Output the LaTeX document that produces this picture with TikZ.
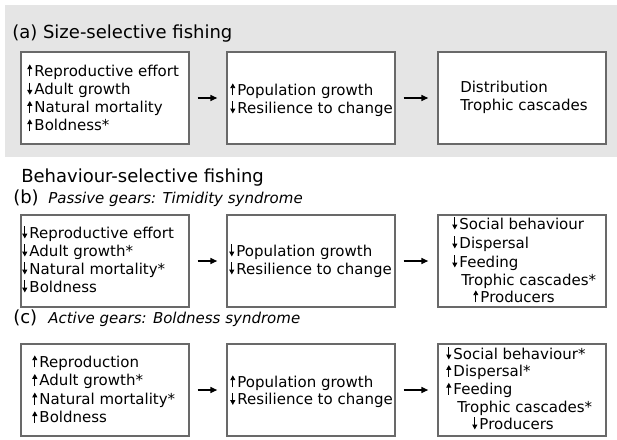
\documentclass[tikz,border=0pt]{standalone}
\usepackage{fontspec}
\setmainfont{DejaVu Sans}
\usetikzlibrary{arrows.meta}
\definecolor{bggray}{RGB}{229,229,229}
\definecolor{boxgray}{RGB}{105,105,105}
\newcommand\uar{\tikz[baseline=0pt]\draw[line width=0.7pt,-{Triangle[length=3.6pt,width=3.8pt]}] (0,-0.3pt)--(0,8.7pt);\hspace{1.6pt}}
\newcommand\dar{\tikz[baseline=0pt]\draw[line width=0.7pt,-{Triangle[length=3.6pt,width=3.8pt]}] (0,8.7pt)--(0,-0.3pt);\hspace{1.6pt}}
\tikzset{
  bx/.style={draw=boxgray, line width=0.8pt, fill=white, minimum width=126pt, minimum height=69pt, inner sep=0pt},
  ln/.style={anchor=base west, inner sep=0pt, font=\fontsize{11.25}{13}\selectfont},
  ttl/.style={anchor=base west, inner sep=0pt, font=\fontsize{13.5}{16}\selectfont},
  sub/.style={anchor=base west, inner sep=0pt, font=\fontsize{11.25}{13}\selectfont\itshape},
  con/.style={-{Triangle[length=5pt,width=4.5pt]}, line width=0.8pt, shorten <=6pt, shorten >=7pt}
}
\begin{document}
\begin{tikzpicture}[x=0.75pt,y=-0.75pt]
\useasboundingbox (0,0) rectangle (617,439);
\fill[white] (0,0) rectangle (617,439);
\fill[bggray] (5,5) rectangle (617,157);
% titles
\node[ttl] (ta) at (12,38) {(a) Size-selective fishing};
\node[ttl] (tbs) at (21,182) {Behaviour-selective fishing};
\node[ttl] (tb) at (13,203) {(b)};
\node[sub] (tbi) at (48,203) {Passive gears: Timidity syndrome};
\node[ttl] (tc) at (13,323) {(c)};
\node[sub] (tci) at (48,323) {Active gears: Boldness syndrome};
% boxes
\node[bx] (a1) at (105,98) {};
\node[bx] (a2) at (311,98) {};
\node[bx] (a3) at (522,98) {};
\node[bx] (b1) at (105,261) {};
\node[bx] (b2) at (311,261) {};
\node[bx] (b3) at (522,261) {};
\node[bx] (c1) at (105,390) {};
\node[bx] (c2) at (311,390) {};
\node[bx] (c3) at (522,390) {};
% connectors
\draw[con] (a1) -- (a2);
\draw[con] (a2) -- (a3);
\draw[con] (b1) -- (b2);
\draw[con] (b2) -- (b3);
\draw[con] (c1) -- (c2);
\draw[con] (c2) -- (c3);
% (a) texts
\foreach \t [count=\i] in {\uar Reproductive effort,\dar Adult growth,\uar Natural mortality,\uar Boldness*}
  \node[ln] (a1t\i) at (27,{76+18.3*(\i-1)}) {\t};
\foreach \t [count=\i] in {\uar Population growth,\dar Resilience to change}
  \node[ln] (a2t\i) at (230,{95+18*(\i-1)}) {\t};
\foreach \t [count=\i] in {Distribution,Trophic cascades}
  \node[ln] (a3t\i) at (460,{92+18*(\i-1)}) {\t};
% (b) texts
\foreach \t [count=\i] in {\dar Reproductive effort,\dar Adult growth*,\dar Natural mortality*,\dar Boldness}
  \node[ln] (b1t\i) at (22,{238+18*(\i-1)}) {\t};
\foreach \t [count=\i] in {\dar Population growth,\dar Resilience to change}
  \node[ln] (b2t\i) at (229,{256+18*(\i-1)}) {\t};
\foreach \t [count=\i] in {\dar Social behaviour,\dar Dispersal,\dar Feeding}
  \node[ln] (b3t\i) at (452,{229+19*(\i-1)}) {\t};
\node[ln] (b3t4) at (461,285) {Trophic cascades*};
\node[ln] (b3t5) at (473,302) {\uar Producers};
% (c) texts
\foreach \t [count=\i] in {\uar Reproduction,\uar Adult growth*,\uar Natural mortality*,\uar Boldness}
  \node[ln] (c1t\i) at (32,{367+18.6*(\i-1)}) {\t};
\foreach \t [count=\i] in {\uar Population growth,\dar Resilience to change}
  \node[ln] (c2t\i) at (230,{387+17.5*(\i-1)}) {\t};
\foreach \t [count=\i] in {\dar Social behaviour*,\uar Dispersal*,\uar Feeding}
  \node[ln] (c3t\i) at (446,{359+17.7*(\i-1)}) {\t};
\node[ln] (c3t4) at (457,412) {Trophic cascades*};
\node[ln] (c3t5) at (472,429) {\dar Producers};
\end{tikzpicture}
\end{document}
